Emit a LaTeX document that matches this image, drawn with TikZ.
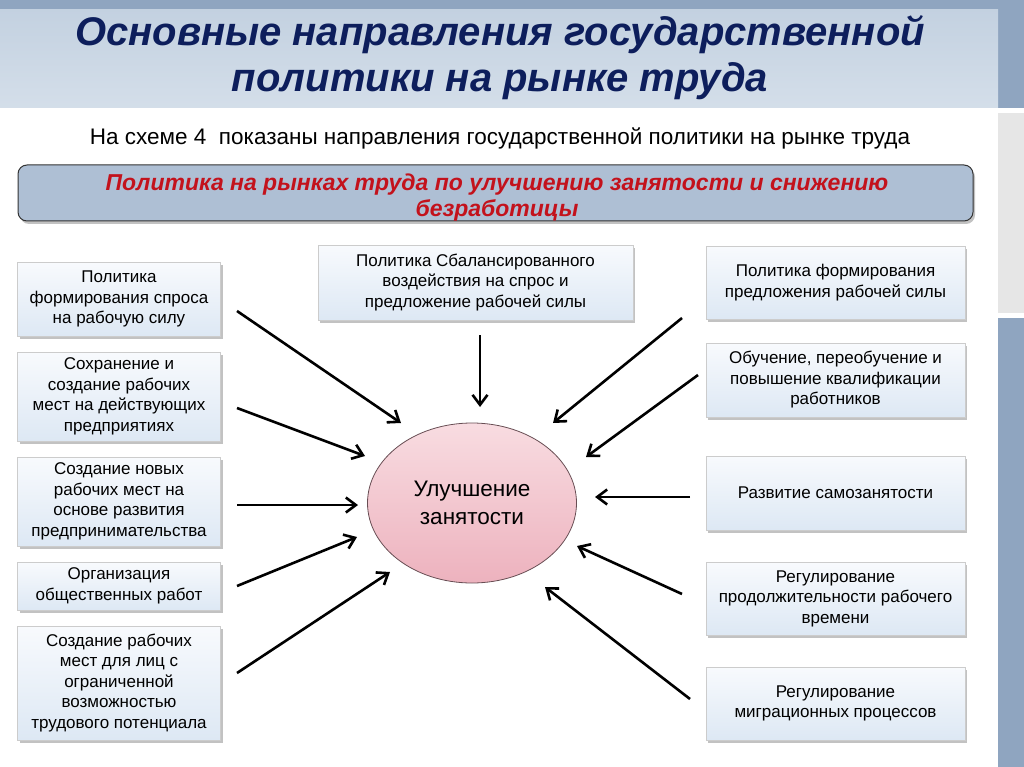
\documentclass[tikz,border=0pt]{standalone}
\usepackage{fontspec}
\setmainfont{Liberation Sans}
\usetikzlibrary{calc,shapes.geometric,shadows,arrows.meta}
\definecolor{bandblue}{HTML}{8FA5C0}
\definecolor{titleblue}{HTML}{C9D6E4}
\definecolor{stripgray}{HTML}{E6E6E6}
\definecolor{navy}{HTML}{0D1E5C}
\definecolor{bannerfill}{HTML}{AEBFD4}
\definecolor{bannerred}{HTML}{C3121C}
\definecolor{boxtop}{HTML}{F8FAFD}
\definecolor{boxbot}{HTML}{DDE8F4}
\definecolor{pinktop}{HTML}{F8DCE1}
\definecolor{pinkbot}{HTML}{EDB2BE}

\begin{document}
\begin{tikzpicture}[x=1pt,y=-1pt,
    box/.style={draw=black!20, line width=.8pt, top color=boxtop, bottom color=boxbot,
      inner sep=0pt, align=center, font=\fontsize{17}{20.5}\selectfont,
      drop shadow={shadow xshift=2pt, shadow yshift=-2.5pt, fill=black!40, opacity=.6}},
    arr/.style={line width=2.6pt, -{Straight Barb[length=10pt,width=15pt]}}]
      \useasboundingbox (0,0) rectangle (1024,767);

      \fill[bandblue] (0,0) rectangle (1024,10);
      \fill[bandblue] (998,0) rectangle (1024,108);
      \shade[top color=titleblue!90!bandblue, bottom color=titleblue!80!white] (0,10) rectangle (998,108);
      \fill[stripgray] (998,113) rectangle (1024,313);
      \fill[bandblue] (998,318) rectangle (1024,767);

      \node (title) at (500,58) [align=center, text=navy,
        font=\fontsize{40}{46}\selectfont\bfseries\itshape]
        {Основные направления государственной\\политики на рынке труда};
      \node (sub) at (500,138) [font=\fontsize{22.5}{26}\selectfont]
        {На схеме 4 \ показаны направления государственной политики на рынке труда};
      \node (B) at (495.5,193) [draw=black!80, line width=1pt, rounded corners=9pt, fill=bannerfill,
        minimum width=955, minimum height=56, inner sep=0pt,
        drop shadow={shadow xshift=2pt, shadow yshift=-3pt, fill=black!40, opacity=.6}] {};
      \node (Btext) at ($(B)+(1.5,5)$) [align=center, text=bannerred,
        font=\fontsize{23}{26}\selectfont\bfseries\itshape]
        {Политика на рынках труда по улучшению занятости и снижению\\безработицы};

      \node (L1) at (119,299)   [box, minimum width=203, minimum height=74]  {Политика\\формирования спроса\\на рабочую силу};
      \node (L2) at (119,396.5) [box, minimum width=203, minimum height=89]  {Сохранение и\\создание рабочих\\мест на действующих\\предприятиях};
      \node (L3) at (119,501.5) [box, minimum width=203, minimum height=89]  {Создание новых\\рабочих мест на\\основе развития\\предпринимательства};
      \node (L4) at (119,586)   [box, minimum width=203, minimum height=48]  {Организация\\общественных работ};
      \node (L5) at (119,683)   [box, minimum width=203, minimum height=114] {Создание рабочих\\мест для лиц с\\ограниченной\\возможностью\\трудового потенциала};

      \node (T) at (475.5,282.5) [box, minimum width=315, minimum height=75] {Политика Сбалансированного\\воздействия на спрос и\\предложение рабочей силы};

      \node (R1) at (835.5,282.5) [box, minimum width=259, minimum height=73] {Политика формирования\\предложения рабочей силы};
      \node (R2) at (835.5,380)   [box, minimum width=259, minimum height=74] {Обучение, переобучение и\\повышение квалификации\\работников};
      \node (R3) at (835.5,493)   [box, minimum width=259, minimum height=74] {Развитие самозанятости};
      \node (R4) at (835.5,598.5) [box, minimum width=259, minimum height=73] {Регулирование\\продолжительности рабочего\\времени};
      \node (R5) at (835.5,703.5) [box, minimum width=259, minimum height=73] {Регулирование\\миграционных процессов};

      \node (E) at (472,503) [ellipse, draw=black!45!pinkbot!80!black, line width=.8pt,
        top color=pinktop, bottom color=pinkbot, minimum width=209, minimum height=160,
        align=center, font=\fontsize{22.5}{28}\selectfont] {Улучшение\\занятости};

      \coordinate (L1o) at (237,311);  \coordinate (L1i) at (401,423);
      \coordinate (L2o) at (237,408);  \coordinate (L2i) at (365,456);
      \coordinate (L3o) at (237,505);  \coordinate (L3i) at (358,505);
      \coordinate (L4o) at (237,586);  \coordinate (L4i) at (357,537);
      \coordinate (L5o) at (237,673);  \coordinate (L5i) at (390,572);
      \coordinate (To)  at (480,335);  \coordinate (Ti)  at (480,407);
      \coordinate (R1o) at (682,318);  \coordinate (R1i) at (553,423);
      \coordinate (R2o) at (698,375);  \coordinate (R2i) at (586,457);
      \coordinate (R3o) at (690,497);  \coordinate (R3i) at (595,497);
      \coordinate (R4o) at (682,594);  \coordinate (R4i) at (577,546);
      \coordinate (R5o) at (690,699);  \coordinate (R5i) at (545,587);

      \draw[arr] (L1o) to (L1i);
      \draw[arr] (L2o) to (L2i);
      \draw[arr] (L3o) to (L3i);
      \draw[arr] (L4o) to (L4i);
      \draw[arr] (L5o) to (L5i);
      \draw[arr] (To) to (Ti);
      \draw[arr] (R1o) to (R1i);
      \draw[arr] (R2o) to (R2i);
      \draw[arr] (R3o) to (R3i);
      \draw[arr] (R4o) to (R4i);
      \draw[arr] (R5o) to (R5i);

    \end{tikzpicture}
\end{document}
